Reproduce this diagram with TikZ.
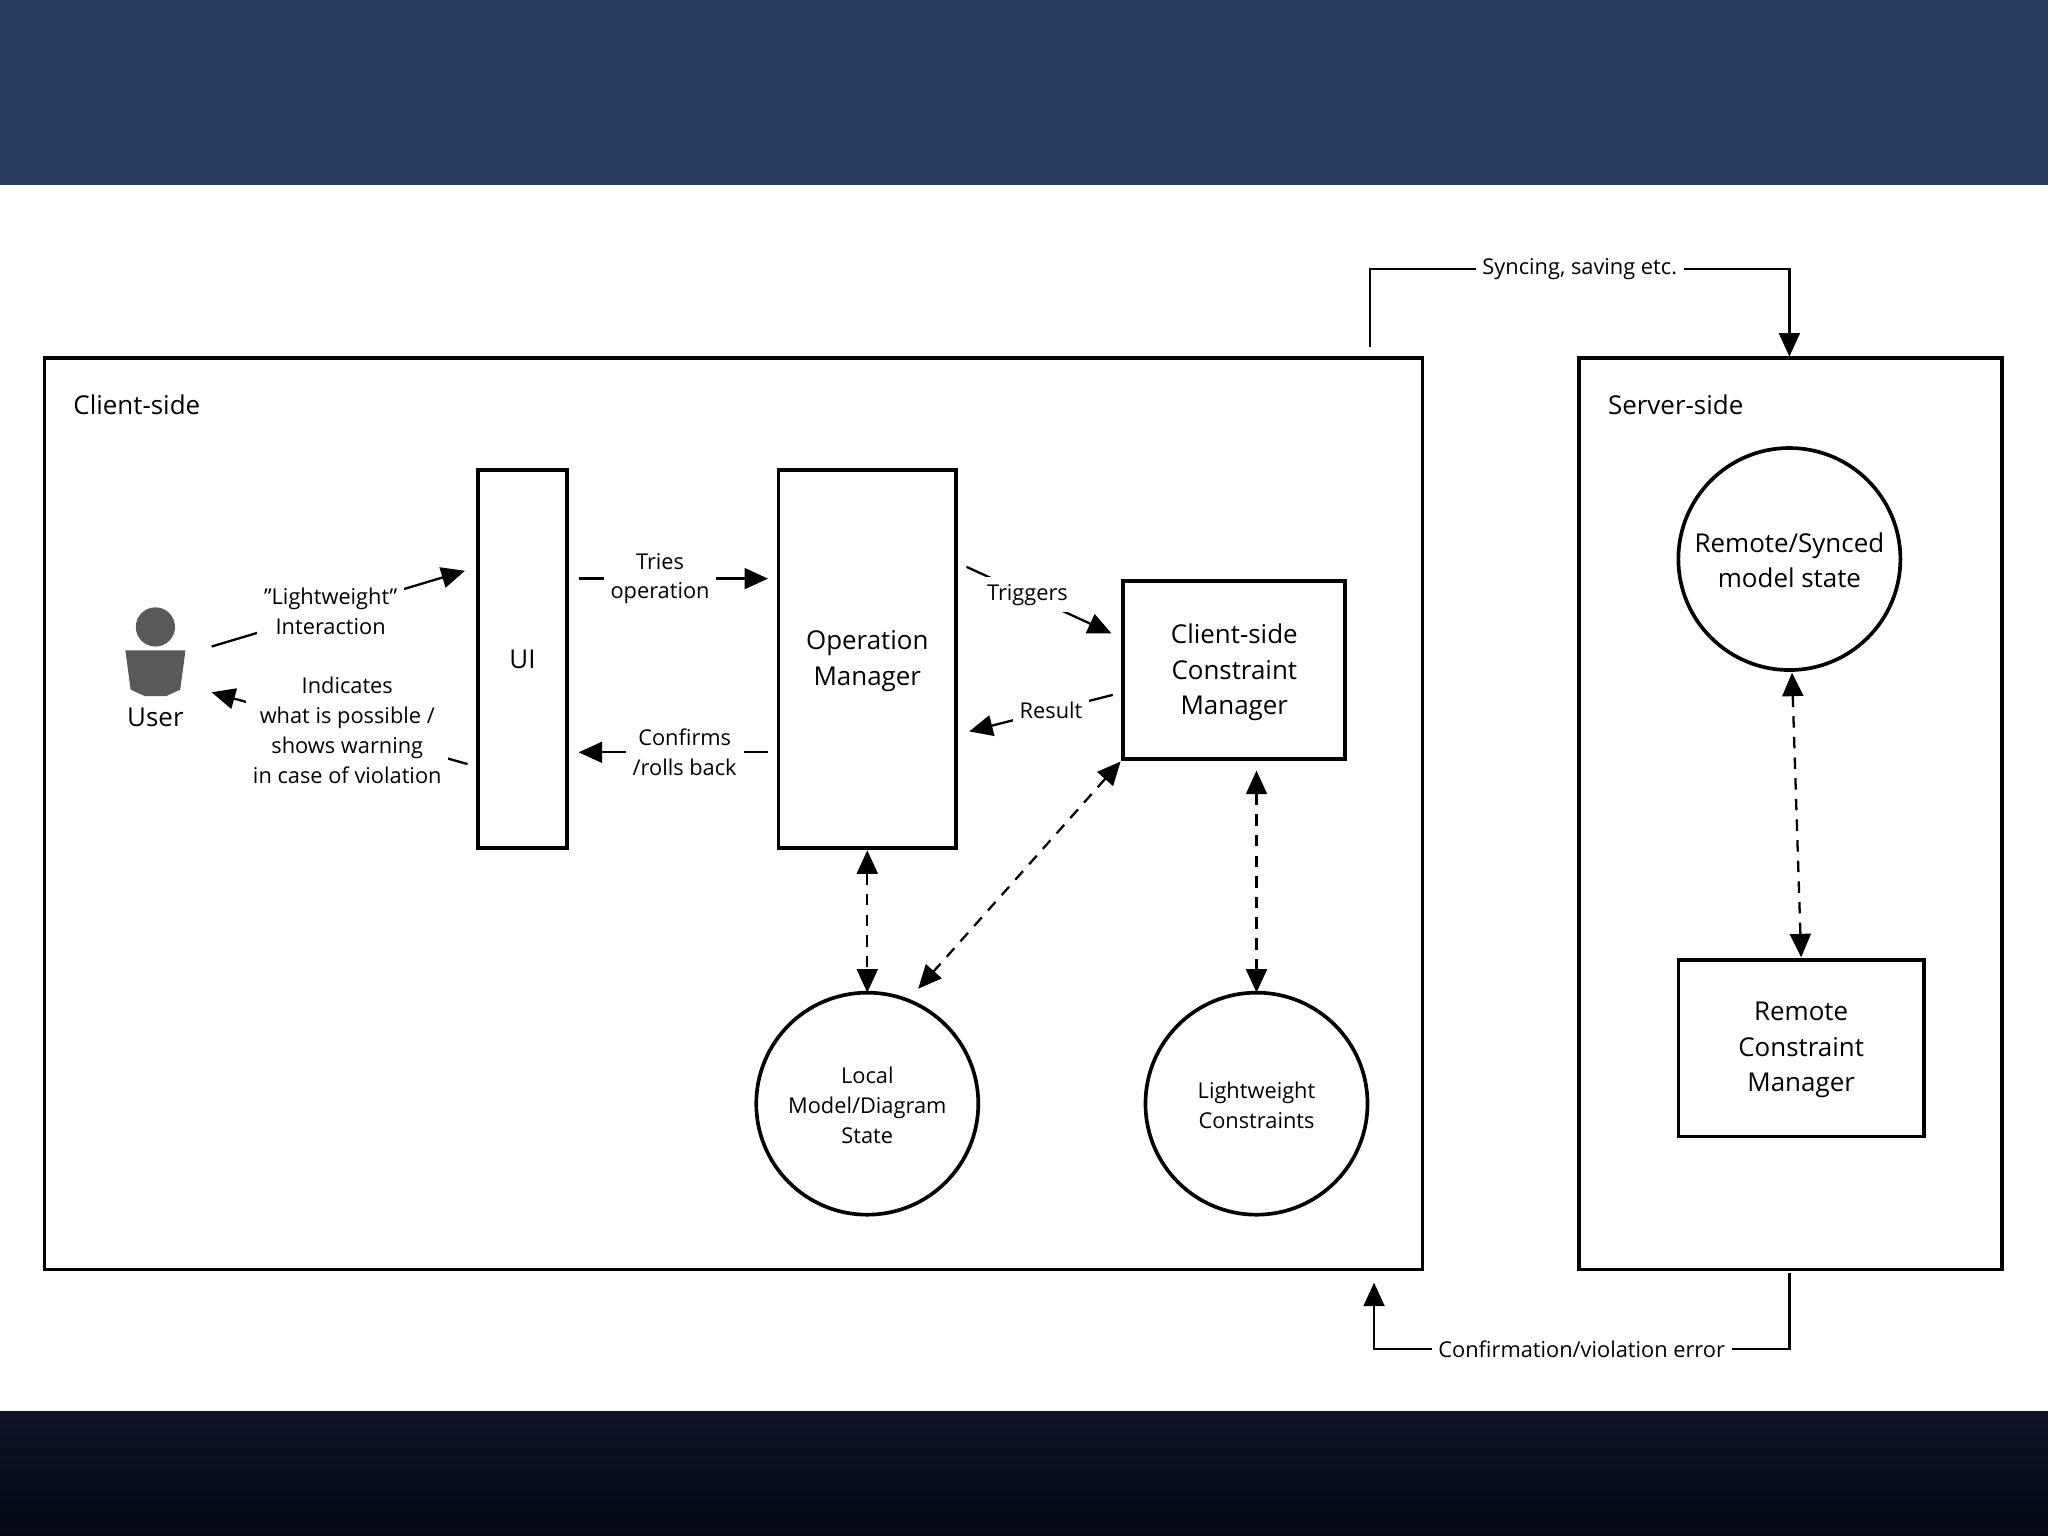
\documentclass[tikz,border=0pt]{standalone}
\usepackage{fontspec}
\setmainfont{Open Sans}
\usetikzlibrary{arrows.meta}
\begin{document}
\begin{tikzpicture}[x=0.02cm,y=-0.02cm,
  box/.style={draw,line width=1.6pt,inner sep=0},
  big/.style={font=\fontsize{11.3}{15.5}\selectfont,align=center},
  small/.style={font=\fontsize{9.5}{13}\selectfont,align=center},
  lbl/.style={small,fill=white,inner sep=3pt},
  arr/.style={line width=1pt,-{Triangle[length=3.6mm,width=3.2mm]}},
  darr/.style={line width=1pt,dashed,dash pattern=on 5pt off 4pt,{Triangle[length=3.6mm,width=3.2mm]}-{Triangle[length=3.6mm,width=3.2mm]}}]
\useasboundingbox (0,0) rectangle (1568,1176);
\fill[white] (0,0) rectangle (1568,1176);
\fill[top color={rgb,255:red,14;green,20;blue,38},bottom color={rgb,255:red,4;green,8;blue,20}] (0,1081) rectangle (1568,1176);
\fill[fill={rgb,255:red,38;green,61;blue,94}] (0,0) rectangle (1568,142);
% containers
\draw[box] (34,274) rectangle (1089,972);
\draw[box] (1209,274) rectangle (1533,972);
\node[big,anchor=west] (cl) at (50,310) {Client-side};
\node[big,anchor=west] (sl) at (1225,310) {Server-side};
% nodes
\draw[box] (366,360) rectangle (434,649); \node[big] (ui) at (400,505) {UI};
\draw[box] (596,360) rectangle (732,649); \node[big] (om) at (664,506) {Operation\\Manager};
\draw[box] (860,445) rectangle (1030,581); \node[big] (ccm) at (945,515) {Client-side\\Constraint\\Manager};
\draw[box] (664,845) circle (85); \node[small] (lm) at (664,846) {Local\\Model/Diagram\\State};
\draw[box] (962,845) circle (85); \node[small] (lc) at (962,846) {Lightweight\\Constraints};
\draw[box] (1370,428) circle (85); \node[big] (rs) at (1370,429) {Remote/Synced\\model state};
\draw[box] (1285,735) rectangle (1473,870); \node[big] (rcm) at (1379,804) {Remote\\Constraint\\Manager};
% user
\fill[gray!70!black] (119,480) circle (15);
\fill[gray!70!black] (96,498) -- (142,498) -- (138,528) -- (127,533) -- (111,533) -- (100,528) -- cycle;
\node[big] (user) at (119,549) {User};
% coordinates
\coordinate (a1) at (162,495); \coordinate (a2) at (356,437);
\coordinate (b1) at (358,585); \coordinate (b2) at (162,530);
\coordinate (c1) at (443,443); \coordinate (c2) at (588,443);
\coordinate (d1) at (588,576); \coordinate (d2) at (443,576);
\coordinate (e1) at (740,434); \coordinate (e2) at (851,485);
\coordinate (f1) at (852,532); \coordinate (f2) at (742,560);
\draw[arr] (a1) -- node[lbl,pos=0.47] {\symbol{34}Lightweight\symbol{34}\\Interaction} (a2);
\draw[arr] (b1) -- node[lbl,pos=0.47] {Indicates\\what is possible /\\shows warning\\in case of violation} (b2);
\draw[arr] (c1) -- node[lbl,pos=0.43] {Tries\\operation} (c2);
\draw[arr] (d1) -- node[lbl,pos=0.44] {Confirms\\/rolls back} (d2);
\draw[arr] (e1) -- node[lbl,pos=0.42] {Triggers} (e2);
\draw[arr] (f1) -- node[lbl,pos=0.43] {Result} (f2);
% dashed
\coordinate (g1) at (664,651); \coordinate (g2) at (664,760);
\coordinate (h1) at (858,583); \coordinate (h2) at (703,757);
\coordinate (i1) at (962,590); \coordinate (i2) at (962,760);
\coordinate (j1) at (1372,515); \coordinate (j2) at (1379,733);
\draw[darr] (g1) -- (g2);
\draw[darr] (h1) -- (h2);
\draw[darr] (i1) -- (i2);
\draw[darr] (j1) -- (j2);
% sync
\coordinate (s1) at (1049,266); \coordinate (s2) at (1370,273);
\draw[arr] (s1) |- node[lbl,pos=0.75] {Syncing, saving etc.} (1370,206) -- (s2);
\coordinate (t1) at (1370,975); \coordinate (t2) at (1052,982);
\draw[arr] (t1) |- node[lbl,pos=0.75] {Confirmation/violation error} (1052,1033) -- (t2);
\end{tikzpicture}
\end{document}
